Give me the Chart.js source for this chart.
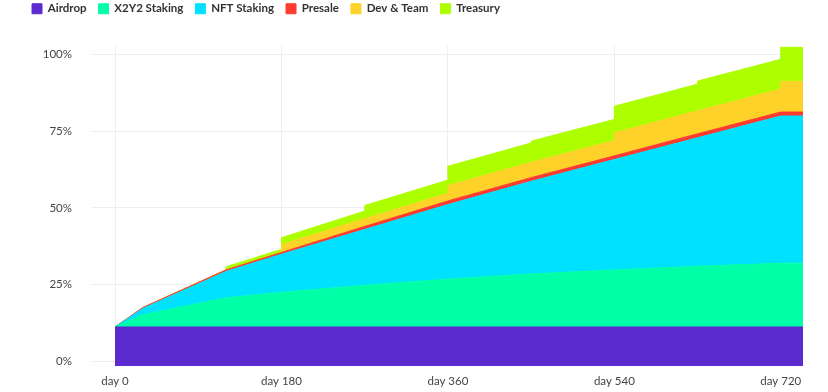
<!DOCTYPE html>
<html>
<head>
<meta charset="utf-8">
<script src="https://cdn.jsdelivr.net/npm/chart.js@4.4.1/dist/chart.umd.min.js"></script>
<style>
  html, body { margin: 0; padding: 0; background: #fff; overflow: hidden; }
  #wrap { position: absolute; left: 0; top: -9px; width: 828px; height: 410px; }
</style>
</head>
<body>
<div id="wrap"><canvas id="chart" width="828" height="410"></canvas></div>
<script>
// days of the unlock schedule (duplicated days = step jumps)
const days = [0, 30, 120, 120, 180, 180, 270, 270, 360, 360, 450, 450, 540, 540, 630, 630, 720, 720, 744];

// share of total supply unlocked per allocation (%)
const airdrop  = [11.2, 11.2, 11.2, 11.2, 11.2, 11.2, 11.2, 11.2, 11.2, 11.2, 11.2, 11.2, 11.2, 11.2, 11.2, 11.2, 11.2, 11.2, 11.2];
const x2y2     = [0, 4.0, 9.5, 9.5, 11.3, 11.3, 13.6, 13.6, 15.6, 15.6, 17.3, 17.3, 18.6, 18.6, 19.8, 19.8, 20.8, 20.8, 20.8];
const nft      = [0, 2.0, 8.6, 8.6, 12.4, 12.4, 18.2, 18.2, 24.3, 24.3, 30.2, 30.2, 36.0, 36.0, 41.9, 41.9, 48.0, 48.0, 48.0];
const presale  = [0, 0.3, 0.5, 0.5, 0.6, 0.6, 1.0, 1.0, 1.2, 1.2, 1.2, 1.2, 1.2, 1.2, 1.3, 1.3, 1.3, 1.3, 1.3];
const devTeam  = [0, 0, 0, 0, 0, 2.5, 2.5, 2.5, 2.5, 5, 5, 5, 5, 7.5, 7.5, 7.5, 7.5, 10, 10];
const treasury = [0, 0, 0, 1.0, 1.0, 2.3, 2.5, 4.3, 4.3, 6.3, 6.3, 6.9, 6.9, 8.7, 8.7, 9.7, 9.7, 11.1, 11.1];

const seriesNames  = ['Airdrop', 'X2Y2 Staking', 'NFT Staking', 'Presale', 'Dev & Team', 'Treasury'];
const seriesValues = [airdrop, x2y2, nft, presale, devTeam, treasury];
const seriesColors = ['#5c2bd0', '#00ffa7', '#00e1ff', '#ff3b30', '#ffd22a', '#adff00'];

const dayTicks = [0, 180, 360, 540, 720];
const pctTicks = [0, 25, 50, 75, 100];

// stack the bands by hand so the steps can share the same day
let running = days.map(() => 0);
const datasets = seriesValues.map((vals, i) => {
    running = running.map((r, k) => r + vals[k]);
    return {
        label: seriesNames[i],
        data: days.map((d, k) => ({ x: d, y: running[k] })),
        backgroundColor: seriesColors[i],
        borderColor: seriesColors[i],
        borderWidth: 1,
        pointRadius: 0,
        tension: 0,
        fill: i === 0 ? 'start' : '-1'
    };
});

// extra space between legend and plot
const legendGap = {
    id: 'legendGap',
    beforeInit(chart) {
        const fit = chart.legend.fit;
        chart.legend.fit = function () {
            fit.bind(chart.legend)();
            this.height += 21;
        };
    }
};

Chart.defaults.font.family = 'Lato, "Noto Sans", sans-serif';

new Chart(document.getElementById('chart').getContext('2d'), {
    type: 'line',
    data: { datasets: datasets },
    plugins: [legendGap],
    options: {
        responsive: false,
        animation: false,
        devicePixelRatio: 1,
        layout: { padding: { left: 20, right: 25, top: 0, bottom: 5 } },
        plugins: {
            legend: {
                position: 'top',
                align: 'start',
                labels: {
                    boxWidth: 10,
                    boxHeight: 10,
                    padding: 12,
                    color: '#333',
                    font: { size: 11.5, weight: 'bold' }
                }
            },
            tooltip: { enabled: false }
        },
        scales: {
            x: {
                type: 'linear',
                min: 0,
                max: 744,
                afterBuildTicks: (scale) => { scale.ticks = dayTicks.map(v => ({ value: v })); },
                ticks: {
                    color: '#444',
                    font: { size: 11.5 },
                    padding: 8,
                    maxRotation: 0,
                    callback: (v) => 'day ' + v
                },
                grid: { color: '#eeeeee', drawTicks: false },
                border: { display: false }
            },
            y: {
                min: -1.6,
                max: 103,
                afterBuildTicks: (scale) => { scale.ticks = pctTicks.map(v => ({ value: v })); },
                afterFit: (scale) => { scale.width = 95; },
                ticks: {
                    color: '#444',
                    font: { size: 11.5 },
                    padding: 20,
                    callback: (v) => v + '%'
                },
                grid: { color: '#eeeeee', tickLength: 23 },
                border: { display: false }
            }
        }
    }
});
</script>
</body>
</html>
